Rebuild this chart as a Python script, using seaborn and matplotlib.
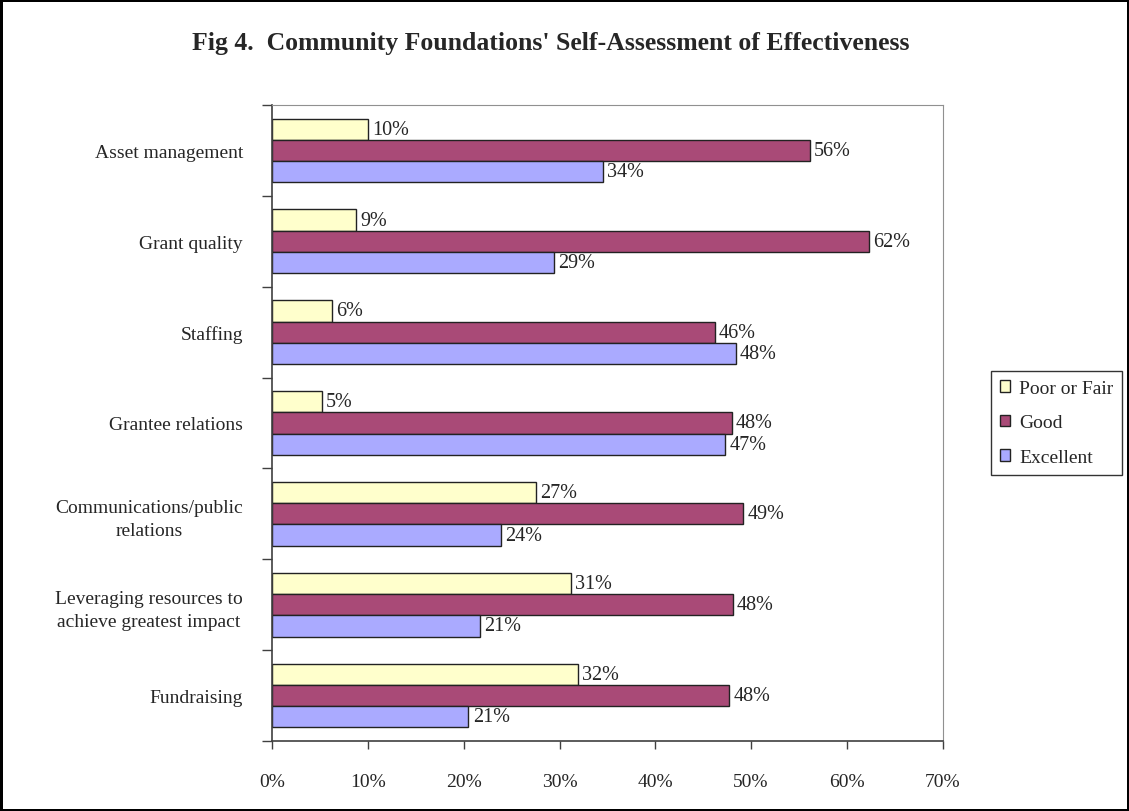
import pandas as pd
import numpy as np
import matplotlib
matplotlib.use("Agg")
import matplotlib.pyplot as plt
import seaborn as sns
from matplotlib.ticker import FixedLocator, FuncFormatter

# data (bar lengths, in percent)
categories = ["Asset management", "Grant quality", "Staffing", "Grantee relations",
              "Communications/public\nrelations",
              "Leveraging resources to\nachieve greatest impact", "Fundraising"]
poor_or_fair = [10.0, 8.8, 6.3, 5.2, 27.5, 31.2, 31.9]
good = [56.1, 62.3, 46.2, 48.0, 49.2, 48.1, 47.7]
excellent = [34.5, 29.4, 48.4, 47.3, 23.9, 21.7, 20.5]
labels_poor = ["10%", "9%", "6%", "5%", "27%", "31%", "32%"]
labels_good = ["56%", "62%", "46%", "48%", "49%", "48%", "48%"]
labels_exc = ["34%", "29%", "48%", "47%", "24%", "21%", "21%"]
series = ["Poor or Fair", "Good", "Excellent"]
colors = ["#ffffcc", "#a94a77", "#aaaaff"]

df = pd.DataFrame({
    "category": categories * 3,
    "value": poor_or_fair + good + excellent,
    "rating": [s for s in series for _ in categories],
})

sns.set_style("white")
plt.rcParams["font.family"] = ["Liberation Serif", "DejaVu Serif"]

fig = plt.figure(figsize=(11.29, 8.12), dpi=100)
fig.patch.set_edgecolor("black")
fig.patch.set_linewidth(2.5)
ax = fig.add_axes([0.241, 0.0862, 0.594, 0.7833])

sns.barplot(data=df, x="value", y="category", hue="rating", order=categories,
            hue_order=series, palette=colors, orient="h", width=0.7,
            edgecolor="#222222", linewidth=1, saturation=1, ax=ax, legend=True)

for cont, labs in zip(ax.containers, [labels_poor, labels_good, labels_exc]):
    ax.bar_label(cont, labels=labs, padding=3, fontsize=14.5)

ax.set_xlim(0, 70)
ax.set_ylim(6.5, -0.5)
ax.set_xticks(np.arange(0, 71, 10))
ax.xaxis.set_major_formatter(FuncFormatter(lambda v, p: f"{v:.0f}%"))
ax.set_xlabel("")
ax.set_ylabel("")
ax.tick_params(axis="x", direction="out", length=6, width=1, color="#404040",
               labelsize=14, pad=17, bottom=True)
ax.tick_params(axis="y", which="major", length=0, labelsize=14, pad=21)
ax.yaxis.set_minor_locator(FixedLocator(np.arange(-0.5, 7, 1)))
ax.tick_params(axis="y", which="minor", direction="out", length=7, width=1,
               color="#404040", left=True)
for t in ax.get_yticklabels():
    t.set_multialignment("center")
    t.set_linespacing(1.5)

for side in ["top", "right"]:
    ax.spines[side].set_visible(True)
    ax.spines[side].set_color("#909090")
for side in ["left", "bottom"]:
    ax.spines[side].set_color("#404040")
    ax.spines[side].set_linewidth(1.2)

ax.get_legend().remove()
handles, labs = ax.get_legend_handles_labels()
leg = fig.legend(handles, labs, loc="center", bbox_to_anchor=(0.936, 0.478),
                 frameon=True, fancybox=False, edgecolor="black", fontsize=14,
                 handlelength=0.5, handleheight=0.5, handletextpad=0.5,
                 labelspacing=0.9, borderpad=0.45)
leg.get_frame().set_linewidth(1)

fig.text(0.488, 0.946, "Fig 4.  Community Foundations' Self-Assessment of Effectiveness",
         ha="center", va="center", fontsize=18.5, fontweight="bold")

plt.savefig("out.png", dpi=100)
plt.close()
